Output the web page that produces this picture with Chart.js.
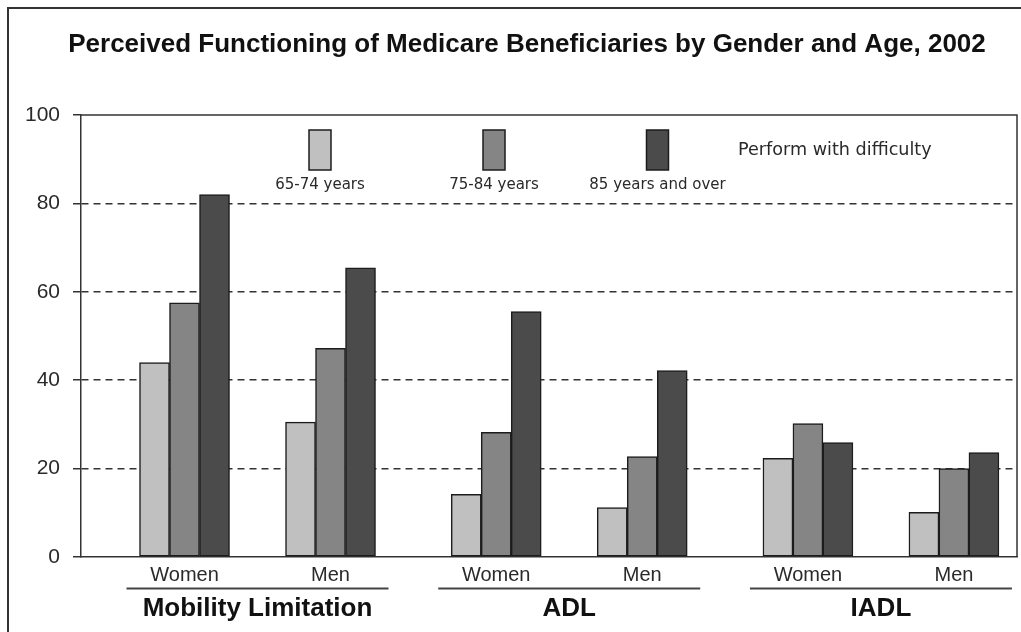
<!DOCTYPE html>
<html>
<head>
<meta charset="utf-8">
<script src="https://cdn.jsdelivr.net/npm/chart.js@4.4.1/dist/chart.umd.min.js"></script>
<style>
  html, body { margin: 0; padding: 0; background: #fff; }
  #wrap { width: 1021px; height: 632px; }
</style>
</head>
<body>
<div id="wrap"><canvas id="chart"></canvas></div>
<script>
// data
const categories = ['Women', 'Men', 'Women', 'Men', 'Women', 'Men'];
const measures = ['Mobility Limitation', 'ADL', 'IADL'];
const seriesNames = ['65-74 years', '75-84 years', '85 years and over'];
const age65to74 = [44, 30.5, 14.2, 11.2, 22.3, 10.1];
const age75to84 = [57.5, 47.2, 28.2, 22.7, 30.2, 20];
const age85plus = [82, 65.4, 55.5, 42.2, 25.9, 23.6];
const yTickValues = [0, 20, 40, 60, 80, 100];
const titleText = 'Perceived Functioning of Medicare Beneficiaries by Gender and Age, 2002';
const noteText = 'Perform with difficulty';

const colors = ['#c0c0c0', '#858585', '#4b4b4b'];
const ink = '#2a2a2a';

// groups of two bars, a little wider gap between measures
const MEASURE_STRIDE = 2.135;
function slot(i) { return Math.floor(i / 2) * MEASURE_STRIDE + (i % 2); }

const seriesValues = [age65to74, age75to84, age85plus];
const datasets = seriesValues.map((vals, s) => ({
  label: seriesNames[s],
  data: vals.map((v, i) => ({ x: slot(i), y: v })),
  backgroundColor: colors[s],
  borderColor: '#1c1c1c',
  borderWidth: 1.5,
  borderSkipped: false,
  barThickness: 30
}));

// frame around plot + outer picture border + title
const framePlugin = {
  id: 'frame',
  beforeDraw(chart) {
    const ctx = chart.ctx;
    ctx.save();
    ctx.strokeStyle = '#333';
    ctx.lineWidth = 2;
    ctx.beginPath();
    ctx.moveTo(8, chart.height);
    ctx.lineTo(8, 8);
    ctx.lineTo(chart.width, 8);
    ctx.stroke();
    ctx.fillStyle = '#111';
    ctx.font = 'bold 26px "Liberation Sans"';
    ctx.textAlign = 'center';
    ctx.textBaseline = 'middle';
    ctx.fillText(titleText, 527, 45);
    ctx.restore();
  },
  beforeDatasetsDraw(chart) {
    const { ctx, chartArea: a } = chart;
    ctx.save();
    ctx.strokeStyle = '#333';
    ctx.lineWidth = 1.5;
    ctx.beginPath();
    ctx.moveTo(a.left, a.top);
    ctx.lineTo(a.right, a.top);
    ctx.lineTo(a.right, a.bottom);
    ctx.stroke();
    ctx.restore();
  }
};

// legend swatches in the plot + measure group labels under the axis
const legendX = [320, 494, 657.5];
const annotPlugin = {
  id: 'annot',
  afterDraw(chart) {
    const { ctx, chartArea: a } = chart;
    const xs = chart.scales.x;
    ctx.save();
    chart.data.datasets.forEach((ds, i) => {
      const cx = legendX[i];
      ctx.fillStyle = ds.backgroundColor;
      ctx.fillRect(cx - 11, 130, 22, 40);
      ctx.strokeStyle = '#1c1c1c';
      ctx.lineWidth = 1.5;
      ctx.strokeRect(cx - 11, 130, 22, 40);
      ctx.fillStyle = ink;
      ctx.font = '15px "DejaVu Sans"';
      ctx.textAlign = 'center';
      ctx.textBaseline = 'middle';
      ctx.fillText(ds.label, cx, 185);
    });
    ctx.font = '17.6px "DejaVu Sans"';
    ctx.textAlign = 'left';
    ctx.fillText(noteText, 738, 150);

    measures.forEach((m, k) => {
      const cx = (xs.getPixelForValue(slot(2 * k)) + xs.getPixelForValue(slot(2 * k + 1))) / 2;
      ctx.strokeStyle = '#444';
      ctx.lineWidth = 2;
      ctx.beginPath();
      ctx.moveTo(cx - 131, a.bottom + 31.5);
      ctx.lineTo(cx + 131, a.bottom + 31.5);
      ctx.stroke();
      ctx.fillStyle = '#111';
      ctx.font = 'bold 26px "Liberation Sans"';
      ctx.textAlign = 'center';
      ctx.textBaseline = 'middle';
      ctx.fillText(m, cx, a.bottom + 52);
    });
    ctx.restore();
  }
};

new Chart(document.getElementById('chart'), {
  type: 'bar',
  data: { datasets },
  options: {
    responsive: true,
    maintainAspectRatio: false,
    animation: false,
    layout: { padding: { left: 0, right: 4, top: 115, bottom: 0 } },
    plugins: {
      legend: { display: false },
      tooltip: { enabled: false },
      title: { display: false }
    },
    scales: {
      x: {
        type: 'linear',
        offset: false,
        min: -0.709,
        max: 5.702,
        afterBuildTicks(scale) {
          scale.ticks = categories.map((c, i) => ({ value: slot(i) }));
        },
        afterFit(scale) { scale.height = 75; },
        grid: { display: false, drawTicks: false, offset: false },
        border: { display: true, color: '#333', width: 1.5 },
        ticks: {
          autoSkip: false,
          maxRotation: 0,
          padding: 6,
          color: ink,
          font: { family: 'Liberation Sans', size: 20 },
          callback: (v, i) => categories[i]
        }
      },
      y: {
        min: 0,
        max: 100,
        afterBuildTicks(scale) {
          scale.ticks = yTickValues.map(v => ({ value: v }));
        },
        afterFit(scale) { scale.width = 81; },
        grid: {
          color: c => (c.tick && (c.tick.value === 0 || c.tick.value === 100)) ? 'rgba(0,0,0,0)' : '#333',
          lineWidth: 1.5,
          tickLength: 8,
          tickColor: '#333',
          tickWidth: 1.5
        },
        border: { display: true, color: '#333', width: 1.5, dash: [7, 5] },
        ticks: {
          padding: 13,
          color: ink,
          font: { family: 'Liberation Sans', size: 21 }
        }
      }
    }
  },
  plugins: [framePlugin, annotPlugin]
});
</script>
</body>
</html>
